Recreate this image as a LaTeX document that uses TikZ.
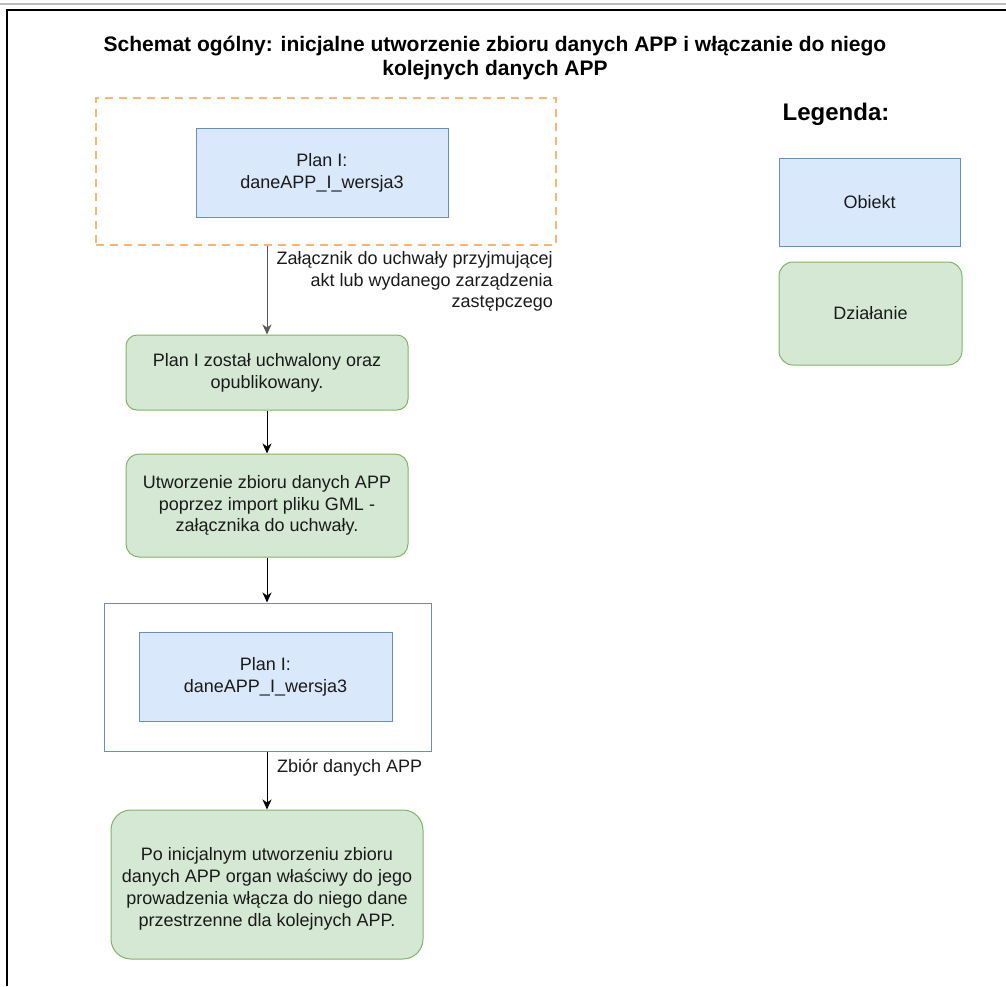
\documentclass[tikz,border=0pt]{standalone}
\usepackage{fontspec}
\setmainfont{Liberation Sans}
\usetikzlibrary{arrows.meta}
\definecolor{bluefill}{HTML}{DAE8FC}
\definecolor{bluedraw}{HTML}{6C8EBF}
\definecolor{greenfill}{HTML}{D5E8D4}
\definecolor{greendraw}{HTML}{82B366}
\definecolor{orangedash}{HTML}{FFB570}
\definecolor{txt}{HTML}{1A1A1A}
\tikzset{
  basefont/.style={font=\fontsize{18}{21.8}\selectfont, text=txt, align=center},
  objbox/.style={basefont, draw=bluedraw, fill=bluefill, line width=1pt},
  actbox/.style={basefont, draw=greendraw, fill=greenfill, line width=1pt},
  framebox/.style={draw=bluedraw, fill=white, line width=1pt},
  dashbox/.style={draw=orangedash, line width=1.6pt, dash pattern=on 8pt off 6pt},
  arr/.style={line width=1pt, -{Stealth[length=10pt,width=9pt,inset=3pt]}},
  lbl/.style={font=\fontsize{18}{21.8}\selectfont, text=txt, inner sep=0pt},
}
\begin{document}
\begin{tikzpicture}[x=1pt,y=-1pt]
\useasboundingbox (0,0) rectangle (1006,986);
% page frame
\draw[gray!55, line width=1.2pt] (0,4) -- (1006,4);
\draw[black, line width=1.6pt] (7,986) -- (7,10) -- (1006,10);

% title
\node[font=\bfseries\fontsize{21}{24}\selectfont, align=center, text=black] (title) at (495,57.5)
  {Schemat ogólny: inicjalne utworzenie zbioru danych APP i włączanie do niego\\kolejnych danych APP};

% left column
\node[dashbox, minimum width=460pt, minimum height=147pt] (dash) at (326,171.5) {};
\node[objbox, minimum width=252pt, minimum height=89pt] (plan1) at (322,172.5) {Plan I:\\daneAPP\_I\_wersja3};

\node[actbox, rounded corners=11pt, minimum width=282pt, minimum height=75pt] (act1) at (267,372.5)
  {Plan I został uchwalony oraz\\opublikowany.};
\node[actbox, rounded corners=13pt, minimum width=282pt, minimum height=103pt] (act2) at (267,505.5)
  {Utworzenie zbioru danych APP\\poprzez import pliku GML -\\załącznika do uchwały.};

\node[framebox, minimum width=327pt, minimum height=148pt] (outer) at (267.5,677) {};
\node[objbox, minimum width=253pt, minimum height=89pt] (plan2) at (265.5,676.5) {Plan I:\\daneAPP\_I\_wersja3};

\node[actbox, rounded corners=20pt, minimum width=312pt, minimum height=149pt] (act3) at (267,884.5) {};
\node[basefont, inner sep=0pt] (act3text) at (267,889)
  {Po inicjalnym utworzeniu zbioru\\danych APP organ właściwy do jego\\prowadzenia włącza do niego dane\\przestrzenne dla kolejnych APP.};

% connectors
\draw[arr, draw=black!65] (act1.north |- dash.south) -- (act1.north);
\draw[arr] (act1) -- (act2);
\draw[arr] (act2.south) -- (act2.south |- outer.north);
\draw[arr] (act3.north |- outer.south) -- (act3.north);

\node[lbl, anchor=north east, align=right] (lbl1) at (553,251)
  {Załącznik do uchwały przyjmującej\\akt lub wydanego zarządzenia\\zastępczego};
\node[lbl, anchor=west] (lbl2) at (277,768) {Zbiór danych APP};

% legend
\node[font=\bfseries\fontsize{24}{28}\selectfont, text=black] (legtitle) at (836,114) {Legenda:};
\node[objbox, minimum width=181pt, minimum height=88pt] (legobj) at (869.5,202) {Obiekt};
\node[actbox, rounded corners=14pt, minimum width=183pt, minimum height=103pt] (legact) at (870.5,313.5) {Działanie};
\end{tikzpicture}
\end{document}
